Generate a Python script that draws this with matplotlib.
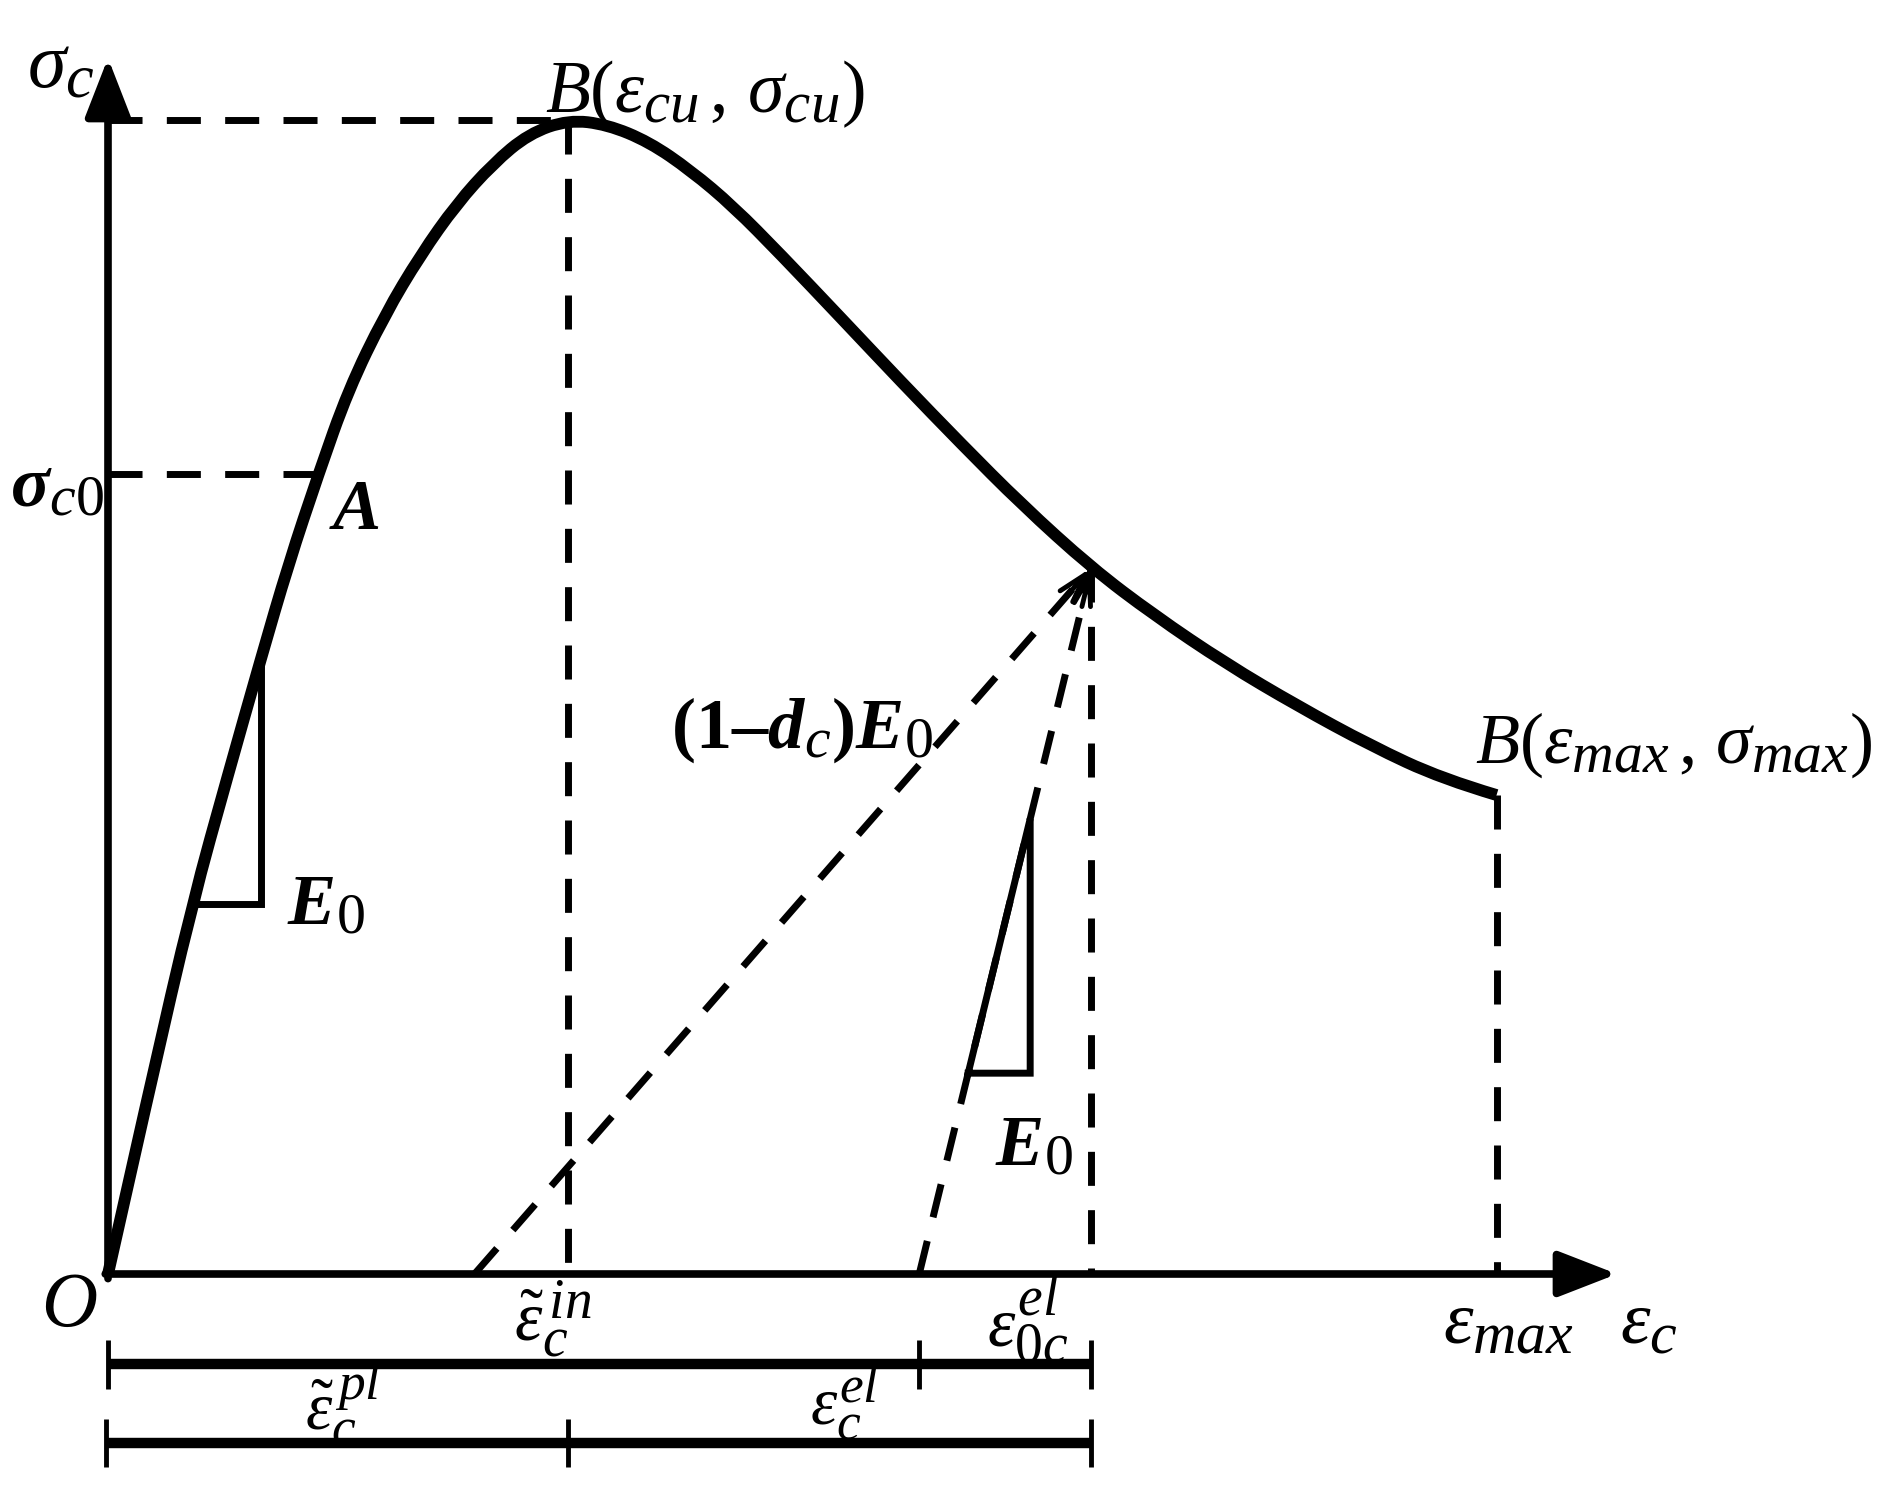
import matplotlib
matplotlib.use("Agg")
import matplotlib.pyplot as plt
import matplotlib._mathtext as _mt
from matplotlib.path import Path
from matplotlib.patches import PathPatch
import numpy as np

_mt.SHRINK_FACTOR = 0.8

plt.rcParams['mathtext.fontset'] = 'custom'
plt.rcParams['mathtext.rm'] = 'Liberation Serif'
plt.rcParams['mathtext.it'] = 'Liberation Serif:italic'
plt.rcParams['mathtext.bf'] = 'Liberation Serif:bold'
plt.rcParams['mathtext.bfit'] = 'Liberation Serif:italic:bold'
plt.rcParams['font.family'] = ['Liberation Serif', 'DejaVu Serif']

# ---- data (normalised: eps / eps_cu , sigma / sigma_cu) ----
eps_curve = [0.0, 0.091, 0.183, 0.261, 0.332, 0.392, 0.457, 0.522, 0.601, 0.679,
             0.757, 0.836, 0.914, 1.0, 1.084, 1.175, 1.266, 1.358, 1.462, 1.593,
             1.723, 1.854, 1.984, 2.136, 2.272, 2.428, 2.585, 2.742, 2.898, 3.016]
sig_curve = [0.0, 0.162, 0.321, 0.433, 0.533, 0.615, 0.693, 0.766, 0.831, 0.883,
             0.927, 0.962, 0.988, 1.0, 0.996, 0.981, 0.956, 0.925, 0.883, 0.828,
             0.773, 0.719, 0.667, 0.612, 0.571, 0.529, 0.492, 0.458, 0.429, 0.415]

eps_cu, sig_cu = 1.0, 1.0          # peak point B
eps_A, sig_c0 = 0.457, 0.693       # point A
eps_u, sig_u = 2.136, 0.612        # unloading point
eps_max, sig_max = 3.016, 0.415    # end point
eps_pl_foot = 0.796                # foot of (1-dc)E0 line
eps_el_foot = 1.762                # foot of E0 unloading line
tri1_x = [0.183, 0.332]            # left slope triangle
tri1_y = [0.321, 0.533]
tri2_y = [0.174]                   # right slope triangle bottom
tri2_x_right = 2.003

# ---- figure ----
W, H = 1885, 1486
fig = plt.figure(figsize=(W / 100, H / 100), dpi=100)
ax = fig.add_axes([0, 0, 1, 1])
ox, oy = 108, 1274
sx, sy = 460.4, 1154.1
ax.set_xlim(-ox / sx, (W - ox) / sx)
ax.set_ylim((oy - H) / sy, oy / sy)
ax.axis('off')

K = 'black'
lw_axis = 5.5
lw_curve = 8.5
lw_dash = 5.0
dash = (0, (4.9, 3.5))

# axes with arrows
ax.annotate('', xy=(0, (oy - 58) / sy), xytext=(0, -0.004),
            arrowprops=dict(arrowstyle='-|>,head_length=0.9,head_width=0.35',
                            lw=lw_axis, color=K, shrinkA=0, shrinkB=0,
                            mutation_scale=40))
ax.annotate('', xy=((1617 - ox) / sx, 0), xytext=(-0.006, 0),
            arrowprops=dict(arrowstyle='-|>,head_length=0.9,head_width=0.35',
                            lw=lw_axis, color=K, shrinkA=0, shrinkB=0,
                            mutation_scale=40))

# dashed construction lines
ax.plot([0, eps_cu], [sig_cu, sig_cu], color=K, lw=lw_dash, ls=dash)
ax.plot([0, eps_A], [sig_c0, sig_c0], color=K, lw=lw_dash, ls=dash)
ax.plot([eps_cu, eps_cu], [sig_cu, 0], color=K, lw=lw_dash, ls=dash)
ax.plot([eps_u, eps_u], [sig_u, 0], color=K, lw=lw_dash, ls=dash)
ax.plot([eps_max, eps_max], [sig_max, 0], color=K, lw=lw_dash, ls=dash)
ax.plot([eps_pl_foot, eps_u], [0, sig_u], color=K, lw=lw_dash, ls=dash)
ax.plot([eps_el_foot, eps_u], [0, sig_u], color=K, lw=lw_dash, ls=dash)

# small arrow heads at unloading point
for foot in (eps_pl_foot, eps_el_foot):
    d = np.array([eps_u - foot, sig_u])
    d = d / np.hypot(d[0] * sx, d[1] * sy)
    start = (eps_u - d[0] * 40, sig_u - d[1] * 40)
    ax.annotate('', xy=(eps_u, sig_u), xytext=start,
                arrowprops=dict(arrowstyle='->,head_length=0.7,head_width=0.2',
                                lw=3.5, color=K, shrinkA=0, shrinkB=0,
                                mutation_scale=30))

# main curve: smooth quadratic path through the read points
pts = np.column_stack([eps_curve, sig_curve])
verts = [tuple(pts[0])]
codes = [Path.MOVETO]
for i in range(1, len(pts) - 1):
    mid = (pts[i] + pts[i + 1]) / 2 if i < len(pts) - 2 else pts[i + 1]
    verts += [tuple(pts[i]), tuple(mid)]
    codes += [Path.CURVE3, Path.CURVE3]
ax.add_patch(PathPatch(Path(verts, codes), facecolor='none', edgecolor=K,
                       lw=lw_curve, joinstyle='round', capstyle='butt'))

# slope triangles
ax.plot([tri1_x[0], tri1_x[1], tri1_x[1]], [tri1_y[0], tri1_y[0], tri1_y[1]],
        color=K, lw=5.0, solid_joinstyle='miter')
slope = sig_u / (eps_u - eps_el_foot)
bx = eps_el_foot + tri2_y[0] / slope
ty = (tri2_x_right - eps_el_foot) * slope
ax.plot([bx, tri2_x_right, tri2_x_right, bx],
        [tri2_y[0], tri2_y[0], ty, tri2_y[0]],
        color=K, lw=5.0, solid_joinstyle='miter')

# strain bars below axis
yb1, yb2 = -0.0784, -0.1464
tk = 0.021
lw_bar = 7.5
ax.plot([0, eps_u], [yb1, yb1], color=K, lw=lw_bar, solid_capstyle='butt')
ax.vlines([0, eps_el_foot, eps_u], yb1 - tk, yb1 + tk, color=K, lw=3.5)
ax.plot([-0.005, eps_u], [yb2, yb2], color=K, lw=lw_bar, solid_capstyle='butt')
ax.vlines([-0.005, eps_cu, eps_u], yb2 - tk, yb2 + tk, color=K, lw=3.5)

# labels
def T(x, y, s, size, ha='center', va='center'):
    ax.text(x, y, s, fontsize=size, ha=ha, va=va, color=K)

T(-0.030, 1.045, r'$\sigma_c$', 56, ha='right')
T(0.950, 1.022, r'$B(\varepsilon_{cu}\,,\,\sigma_{cu})$', 53, ha='left')
T(-0.008, 0.680, r'$\mathbfit{\sigma}_{\mathit{c}\mathrm{0}}$', 52, ha='right')
T(0.536, 0.661, r'$\mathbfit{A}$', 52)
T(1.507, 0.471, '$\\mathbf{(1{–}}\\mathbfit{d}_{\\mathit{c}}\\mathbf{)}\\mathbfit{E}_{\\mathrm{0}}$', 52)
T(0.473, 0.318, r'$\mathbfit{E}_{\mathrm{0}}$', 52)
T(2.011, 0.109, r'$\mathbfit{E}_{\mathrm{0}}$', 52)
T(3.400, 0.458, r'$B(\varepsilon_{max}\,,\,\sigma_{max})$', 52)
T(-0.085, -0.029, r'$O$', 56)
T(0.967, -0.039, r'$\tilde{\varepsilon}_c^{\,in}$', 50)
T(1.998, -0.040, r'$\varepsilon_{0c}^{el}$', 50)
T(3.043, -0.045, r'$\varepsilon_{max}$', 54)
T(3.347, -0.045, r'$\varepsilon_c$', 54)
T(0.510, -0.112, r'$\tilde{\varepsilon}_c^{\,pl}$', 48)
T(1.599, -0.111, r'$\varepsilon_c^{el}$', 48)

fig.savefig('out.png', dpi=100, facecolor='white')
